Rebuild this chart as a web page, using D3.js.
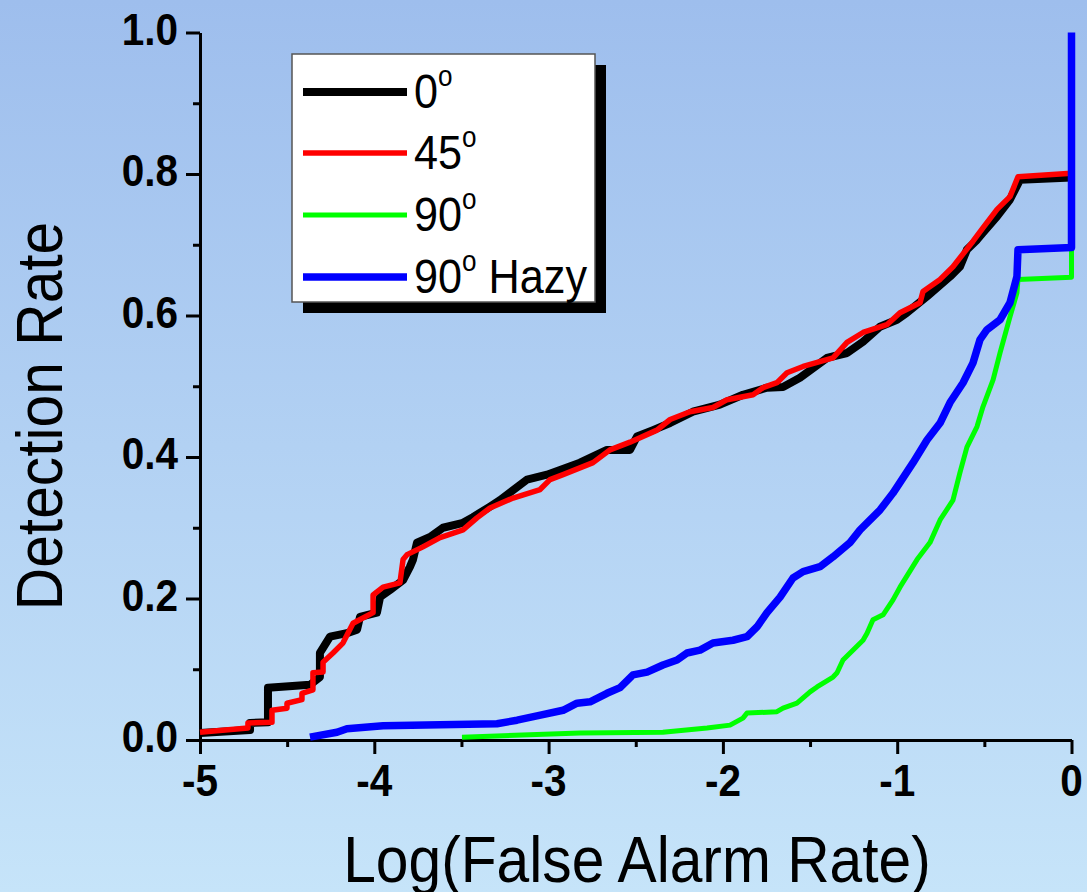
<!DOCTYPE html>
<html>
<head>
<meta charset="utf-8">
<script src="https://cdn.jsdelivr.net/npm/d3@7"></script>
<style>
html,body{margin:0;padding:0;overflow:hidden;}
svg{display:block;}
</style>
</head>
<body>
<script>
// ---- data (x = log10 false alarm rate, y = detection rate) ----
const xTicksMajor = [-5, -4, -3, -2, -1, 0];
const xTickLabels = ["-5", "-4", "-3", "-2", "-1", "0"];
const xTicksMinor = [-4.5, -3.5, -2.5, -1.5, -0.5];
const yTicksMajor = [0, 0.2, 0.4, 0.6, 0.8, 1.0];
const yTickLabels = ["0.0", "0.2", "0.4", "0.6", "0.8", "1.0"];
const yTicksMinor = [0.1, 0.3, 0.5, 0.7, 0.9];

const seriesNames = ["0", "45", "90", "90 Hazy"];
const seriesColors = ["#000000", "#ff0000", "#00ff00", "#0000ff"];

const deg0 = [
  [-5.000,0.010],[-4.713,0.014],[-4.713,0.024],[-4.610,0.025],[-4.610,0.074],[-4.369,0.078],
  [-4.312,0.089],[-4.312,0.123],[-4.254,0.146],[-4.157,0.151],[-4.099,0.156],[-4.082,0.174],
  [-3.985,0.180],[-3.967,0.202],[-3.910,0.212],[-3.835,0.226],[-3.795,0.245],[-3.778,0.255],
  [-3.755,0.279],[-3.680,0.287],[-3.606,0.300],[-3.491,0.307],[-3.434,0.315],[-3.336,0.330],
  [-3.279,0.339],[-3.124,0.368],[-3.009,0.375],[-2.820,0.392],[-2.665,0.410],[-2.533,0.410],
  [-2.493,0.429],[-2.401,0.438],[-2.303,0.448],[-2.172,0.464],[-2.017,0.474],[-1.885,0.488],
  [-1.747,0.498],[-1.655,0.499],[-1.558,0.512],[-1.403,0.540],[-1.288,0.547],[-1.196,0.563],
  [-1.099,0.584],[-1.001,0.594],[-0.944,0.604],[-0.829,0.627],[-0.697,0.655],[-0.640,0.669],
  [-0.600,0.693],[-0.542,0.707],[-0.508,0.717],[-0.427,0.740],[-0.353,0.764],[-0.295,0.792],
  [0.000,0.795]
];
const deg45 = [
  [-5.000,0.011],[-4.725,0.017],[-4.725,0.024],[-4.587,0.025],[-4.587,0.042],[-4.501,0.045],
  [-4.501,0.052],[-4.415,0.057],[-4.415,0.066],[-4.352,0.071],[-4.352,0.095],[-4.294,0.096],
  [-4.294,0.110],[-4.237,0.123],[-4.180,0.137],[-4.122,0.165],[-4.007,0.180],[-4.007,0.205],
  [-3.950,0.216],[-3.853,0.222],[-3.835,0.255],[-3.812,0.262],[-3.721,0.273],[-3.623,0.286],
  [-3.491,0.297],[-3.411,0.314],[-3.336,0.328],[-3.204,0.342],[-3.049,0.354],[-2.992,0.368],
  [-2.917,0.375],[-2.745,0.392],[-2.648,0.410],[-2.533,0.421],[-2.378,0.438],[-2.303,0.453],
  [-2.189,0.464],[-2.057,0.470],[-1.976,0.481],[-1.827,0.488],[-1.770,0.498],[-1.690,0.505],
  [-1.632,0.519],[-1.540,0.528],[-1.368,0.540],[-1.288,0.562],[-1.196,0.576],[-1.059,0.587],
  [-0.984,0.604],[-0.869,0.618],[-0.852,0.634],[-0.754,0.651],[-0.680,0.669],[-0.565,0.705],
  [-0.508,0.724],[-0.427,0.750],[-0.353,0.768],[-0.307,0.796],[0.000,0.801]
];
const deg90 = [
  [-3.497,0.004],[-2.820,0.010],[-2.344,0.011],[-2.091,0.017],[-1.959,0.021],[-1.885,0.031],
  [-1.862,0.038],[-1.690,0.040],[-1.655,0.045],[-1.575,0.052],[-1.500,0.068],[-1.460,0.075],
  [-1.368,0.089],[-1.345,0.095],[-1.311,0.113],[-1.196,0.141],[-1.173,0.151],[-1.139,0.170],
  [-1.081,0.177],[-1.024,0.198],[-0.984,0.216],[-0.886,0.255],[-0.812,0.279],[-0.754,0.311],
  [-0.680,0.339],[-0.640,0.378],[-0.600,0.414],[-0.542,0.443],[-0.508,0.471],[-0.450,0.509],
  [-0.410,0.547],[-0.353,0.598],[-0.313,0.632],[-0.307,0.651],[0.000,0.654],[0.000,0.696]
];
const deg90Hazy = [
  [-4.369,0.004],[-4.214,0.011],[-4.157,0.016],[-3.950,0.020],[-3.296,0.023],[-3.181,0.028],
  [-3.067,0.034],[-2.917,0.042],[-2.837,0.052],[-2.762,0.054],[-2.665,0.066],[-2.590,0.074],
  [-2.516,0.092],[-2.435,0.096],[-2.344,0.106],[-2.263,0.113],[-2.206,0.123],[-2.131,0.127],
  [-2.057,0.137],[-1.942,0.141],[-1.862,0.146],[-1.804,0.160],[-1.747,0.180],[-1.672,0.202],
  [-1.598,0.229],[-1.540,0.238],[-1.443,0.245],[-1.368,0.259],[-1.271,0.279],[-1.213,0.297],
  [-1.099,0.325],[-1.024,0.349],[-0.909,0.392],[-0.829,0.424],[-0.754,0.448],[-0.697,0.477],
  [-0.622,0.505],[-0.565,0.533],[-0.525,0.566],[-0.485,0.580],[-0.410,0.594],[-0.353,0.618],
  [-0.313,0.655],[-0.307,0.693],[0.000,0.696],[0.000,1.000]
];
const seriesData = [deg0, deg45, deg90, deg90Hazy];
const seriesWidths = [8, 5.5, 5, 7.5];

// ---- layout ----
const W = 1087, H = 892;
const svg = d3.select("body").append("svg").attr("width", W).attr("height", H);

const defs = svg.append("defs");
const grad = defs.append("linearGradient").attr("id", "bg").attr("x1", 0).attr("y1", 0).attr("x2", 0).attr("y2", 1);
grad.append("stop").attr("offset", "0%").attr("stop-color", "#9ebeed");
grad.append("stop").attr("offset", "100%").attr("stop-color", "#c6e4f9");
svg.append("rect").attr("width", W).attr("height", H).attr("fill", "url(#bg)");

const x = d3.scaleLinear().domain([-5, 0]).range([200, 1071.5]);
const y = d3.scaleLinear().domain([0, 1]).range([740, 32.5]);

const FONT = "'Liberation Sans', Arial, Helvetica, sans-serif";
const SX = 0.9; // horizontal squeeze seen in the reference text

// axes (lines and ticks)
function styleAxis(g) {
  g.selectAll("path").attr("stroke", "#000").attr("stroke-width", 3);
  g.selectAll("line").attr("stroke", "#000").attr("stroke-width", 3);
  g.selectAll("text").remove();
}
svg.append("g").attr("transform", `translate(0,${y(0)})`)
  .call(d3.axisBottom(x).tickValues(xTicksMinor).tickSize(7).tickSizeOuter(0).tickFormat(""))
  .call(styleAxis);
svg.append("g").attr("transform", `translate(0,${y(0)})`)
  .call(d3.axisBottom(x).tickValues(xTicksMajor).tickSize(14).tickSizeOuter(0).tickFormat(""))
  .call(styleAxis);
svg.append("g").attr("transform", `translate(${x(-5)},0)`)
  .call(d3.axisLeft(y).tickValues(yTicksMinor).tickSize(7).tickSizeOuter(0).tickFormat(""))
  .call(styleAxis);
svg.append("g").attr("transform", `translate(${x(-5)},0)`)
  .call(d3.axisLeft(y).tickValues(yTicksMajor).tickSize(14).tickSizeOuter(0).tickFormat(""))
  .call(styleAxis);

// tick labels
svg.append("g").selectAll("text").data(xTicksMajor).join("text")
  .attr("transform", d => `translate(${x(d)},796) scale(${SX},1)`)
  .attr("text-anchor", "middle")
  .attr("font-family", FONT).attr("font-weight", "bold").attr("font-size", 45)
  .text((d, i) => xTickLabels[i]);
svg.append("g").selectAll("text").data(yTicksMajor).join("text")
  .attr("transform", d => `translate(178,${y(d) + 12}) scale(${SX},1)`)
  .attr("text-anchor", "end")
  .attr("font-family", FONT).attr("font-weight", "bold").attr("font-size", 45)
  .text((d, i) => yTickLabels[i]);

// axis titles
svg.append("text")
  .attr("transform", `translate(637,882) scale(0.918,1)`)
  .attr("text-anchor", "middle").attr("font-family", FONT).attr("font-size", 64)
  .text("Log(False Alarm Rate)");
svg.append("text")
  .attr("transform", `translate(62,416) rotate(-90) scale(0.918,1)`)
  .attr("text-anchor", "middle").attr("font-family", FONT).attr("font-size", 64)
  .text("Detection Rate");

// curves
const line = d3.line().x(d => x(d[0])).y(d => y(d[1]));
svg.append("g").selectAll("path").data(seriesData).join("path")
  .attr("d", line)
  .attr("fill", "none")
  .attr("stroke", (d, i) => seriesColors[i])
  .attr("stroke-width", (d, i) => seriesWidths[i])
  .attr("stroke-linejoin", "round");

// legend
const lg = svg.append("g");
lg.append("rect").attr("x", 303).attr("y", 65).attr("width", 303).attr("height", 248).attr("fill", "#000");
lg.append("rect").attr("x", 292).attr("y", 54).attr("width", 303).attr("height", 248)
  .attr("fill", "#fff").attr("stroke", "#555").attr("stroke-width", 1.5);
const rowY = [92, 153, 215, 277];
seriesNames.forEach((name, i) => {
  lg.append("line").attr("x1", 303).attr("x2", 407).attr("y1", rowY[i]).attr("y2", rowY[i])
    .attr("stroke", seriesColors[i]).attr("stroke-width", seriesWidths[i]);
  const parts = name.split(" ");
  const t = lg.append("text")
    .attr("transform", `translate(414,${rowY[i] + 16}) scale(${SX},1)`)
    .attr("font-family", FONT).attr("font-size", 48);
  t.append("tspan").text(parts[0]);
  t.append("tspan").attr("font-size", 29).attr("dy", -22).text("o");
  if (parts.length > 1) t.append("tspan").attr("dy", 22).text(" " + parts.slice(1).join(" "));
});
</script>
</body>
</html>
